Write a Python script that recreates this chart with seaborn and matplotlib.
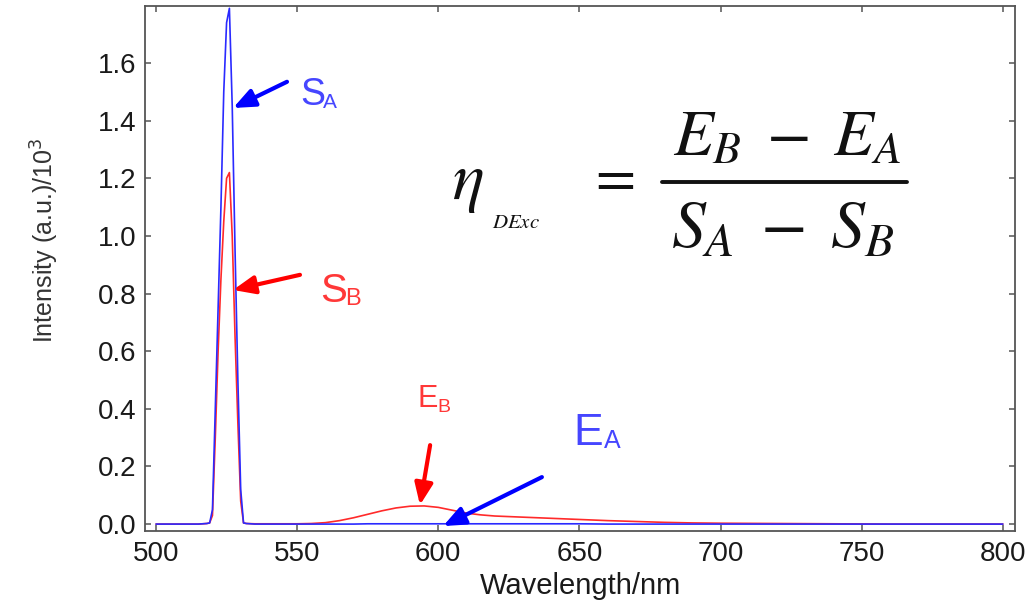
import matplotlib
matplotlib.use("Agg")
import matplotlib.pyplot as plt
from matplotlib.lines import Line2D
import seaborn as sns
import pandas as pd

# Emission spectra (intensity in units of 10^3 a.u.)
wavelength = [500, 505, 510, 515, 518, 519, 520, 521, 522, 523, 524, 525, 526,
              527, 528, 529, 530, 531, 532, 535, 540, 545, 550, 555, 560, 565,
              570, 575, 580, 585, 590, 595, 600, 605, 610, 615, 620, 630, 640,
              650, 660, 670, 680, 690, 700, 720, 740, 760, 780, 800]
intensity_A = [0.0, 0.0, 0.0, 0.0, 0.002, 0.004, 0.05, 0.40, 0.75, 1.10, 1.50,
               1.74, 1.79, 1.45, 0.95, 0.50, 0.12, 0.004, 0.002, 0.0, 0.0, 0.0,
               0.0, 0.0, 0.0, 0.0, 0.0, 0.001, 0.001, 0.001, 0.001, 0.001, 0.001,
               0.001, 0.001, 0.001, 0.001, 0.001, 0.001, 0.001, 0.0, 0.0, 0.0,
               0.0, 0.0, 0.0, 0.0, 0.0, 0.0, 0.0]
intensity_B = [0.0, 0.0, 0.0, 0.0, 0.002, 0.004, 0.03, 0.30, 0.60, 0.85, 1.05,
               1.20, 1.22, 1.00, 0.65, 0.35, 0.08, 0.004, 0.002, 0.001, 0.001,
               0.001, 0.001, 0.002, 0.005, 0.012, 0.022, 0.034, 0.046, 0.056,
               0.062, 0.063, 0.058, 0.048, 0.038, 0.032, 0.028, 0.024, 0.020,
               0.016, 0.012, 0.009, 0.006, 0.004, 0.003, 0.002, 0.001, 0.0, 0.0,
               0.0]

x_ticks = [500, 550, 600, 650, 700, 750, 800]
y_ticks = [0.0, 0.2, 0.4, 0.6, 0.8, 1.0, 1.2, 1.4, 1.6]

df = pd.DataFrame({"wl": wavelength, "A": intensity_A, "B": intensity_B})

sns.set_style("ticks")
plt.rcParams["font.family"] = ["Liberation Sans", "DejaVu Sans"]

W, H = 1034, 608
PT = 72 / 100  # points per pixel at 100 dpi
fig = plt.figure(figsize=(W / 100, H / 100), dpi=100)
ax = fig.add_axes([145 / W, 1 - 531 / H, 870 / W, 525 / H])

sns.lineplot(data=df, x="wl", y="B", ax=ax, color="#ff2a2a", lw=1.2)
sns.lineplot(data=df, x="wl", y="A", ax=ax, color="#2a2aff", lw=1.2)

ax.set_xlim(496.1, 804.3)
ax.set_ylim(-0.024, 1.798)
ax.set_xticks(x_ticks)
ax.set_yticks(y_ticks)
ax.set_yticklabels([f"{v:.1f}" for v in y_ticks])

for sp in ax.spines.values():
    sp.set_visible(True)
    sp.set_color("#555555")
    sp.set_linewidth(1.3)
ax.tick_params(direction="in", length=4, width=1.1, color="#555555",
               top=True, right=True, labelsize=20, labelcolor="#1a1a1a")
ax.tick_params(axis="x", pad=7)
ax.tick_params(axis="y", pad=6)

ax.set_xlabel("Wavelength/nm", fontsize=21, color="#1a1a1a", labelpad=4)
ax.set_ylabel("Intensity (a.u.)/10$^3$", fontsize=18, color="#333333")
ax.yaxis.set_label_coords(-0.097, 0.554)

# Arrows pointing at the scattering and emission features
def arrow(head, tail, color):
    ax.annotate("", xy=head, xytext=tail,
                arrowprops=dict(arrowstyle="-|>,head_length=1.0,head_width=0.42",
                                mutation_scale=13, lw=3, color=color,
                                shrinkA=0, shrinkB=0))

arrow((527.3, 1.444), (546.4, 1.535), "#0000ff")
arrow((527.3, 0.8125), (551.0, 0.865), "#ff0000")
arrow((593.5, 0.066), (597.1, 0.274), "#ff0000")
arrow((601.7, -0.007), (636.7, 0.163), "#0000ff")

# Peak labels: letter plus smaller subscript (offsets in pixels)
def label(x, y, main, sub, size, subsize, dx, dy, color):
    ax.text(x, y, main, fontsize=size, color=color, ha="left", va="baseline")
    ax.annotate(sub, xy=(x, y), xytext=(dx * PT, -dy * PT),
                textcoords="offset points", fontsize=subsize, color=color,
                ha="left", va="baseline")

blue_txt = "#4646ff"
red_txt = "#ff3838"
label(551.0, 1.455, "S", "A", 27, 15, 23, 3, blue_txt)
label(558.1, 0.771, "S", "B", 29, 17, 25, 3, red_txt)
label(592.5, 0.406, "E", "B", 22, 14, 20, 5, red_txt)
label(648.0, 0.274, "E", "A", 32, 18, 30, 3, blue_txt)

# Efficiency formula
def ftext(px, py, s, size, ha="left"):
    fig.text(px / W, 1 - py / H, s, fontsize=size, ha=ha, va="baseline",
             math_fontfamily="stix", color="#111111")

ftext(452, 199, r"$\eta$", 48)
ftext(492, 228, r"$DExc$", 15)
ftext(611, 194, r"$=$", 42, ha="center")
ftext(787, 155, r"$E_B\;-\;E_A$", 47, ha="center")
ftext(783, 247, r"$S_A\;-\;S_B$", 49, ha="center")
fig.add_artist(Line2D([662 / W, 907 / W], [1 - 182 / H, 1 - 182 / H],
                      transform=fig.transFigure, color="#111111", lw=2.8))

fig.savefig("out.png", dpi=100)
